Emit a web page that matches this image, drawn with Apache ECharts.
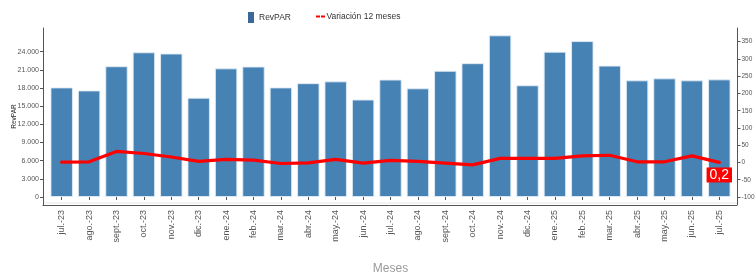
<!DOCTYPE html>
<html>
<head>
<meta charset="utf-8">
<script src="https://cdn.jsdelivr.net/npm/echarts@6/dist/echarts.min.js"></script>
<style>
    html, body {margin:0;padding:0;background:#fff;}
    #chart {width:755px;height:272px;}
</style>
</head>
<body>
<div id="chart"></div>
<script>
    var meses = ['jul.-23','ago.-23','sept.-23','oct.-23','nov.-23','dic.-23',
        'ene.-24','feb.-24','mar.-24','abr.-24','may.-24','jun.-24',
        'jul.-24','ago.-24','sept.-24','oct.-24','nov.-24','dic.-24',
        'ene.-25','feb.-25','mar.-25','abr.-25','may.-25','jun.-25','jul.-25'];
    var revpar = [18100, 17600, 21600, 23900, 23700, 16400,
        21250, 21550, 18100, 18800, 19100, 16100,
        19400, 17950, 20850, 22100, 26700, 18450,
        24000, 25750, 21700, 19270, 19600, 19270, 19430];
    var variacion = [1, 2, 32, 26, 16, 3,
        9, 7, -3, -1, 9, -2,
        6, 3, -2, -7, 12, 12,
        12, 19, 21, 2, 2, 19, 0.2];
    var ticksIzq = [0, 3000, 6000, 9000, 12000, 15000, 18000, 21000, 24000];
    var ticksDer = [-100, -50, 0, 50, 100, 150, 200, 250, 300, 350];

    var fuente = 'Liberation Sans, Arial, sans-serif';
    var chart = echarts.init(document.getElementById('chart'));

    // solo el ultimo punto lleva etiqueta
    var lineData = variacion.map(function (v, i) {
        if (i === variacion.length - 1) {
            return {
                value: v,
                label: {
                    show: true, position: 'bottom', distance: 5,
                    formatter: function (p) { return String(p.value).replace('.', ','); },
                    color: '#fff', backgroundColor: '#ff0000',
                    fontSize: 14, fontFamily: fuente, padding: [1, 3, 0, 3]
                }
            };
        }
        return v;
    });

    var option = {
        animation: false,
        textStyle: {fontFamily: fuente},
        grid: {left: 48, right: 22, top: 28, bottom: 67, containLabel: false, outerBoundsMode: 'none'},
        legend: [{
            data: [{name: 'RevPAR', icon: 'rect', itemStyle: {color: '#3b6896', borderWidth: 0}}],
            left: 248, top: 12, padding: 0, itemWidth: 6, itemHeight: 11, itemGap: 5,
            textStyle: {fontSize: 8.5, color: '#333', fontFamily: fuente}
        }, {
            data: [{name: 'Variación 12 meses', icon: 'path://M0,0h4v2h-4z M5,0h4v2h-4z'}],
            left: 316, top: 12, padding: 0, itemWidth: 10, itemHeight: 2, itemGap: 5,
            textStyle: {fontSize: 8.5, color: '#333', fontFamily: fuente, padding: [0, 0, 0, -4]}
        }],
        xAxis: {
            type: 'category',
            data: meses,
            name: 'Meses', nameLocation: 'middle', nameGap: 58, nameMoveOverlap: false,
            nameTextStyle: {fontSize: 12, color: '#999'},
            axisLine: {show: false},
            axisTick: {show: true, alignWithLabel: true, length: 3, lineStyle: {color: '#555'}},
            axisLabel: {rotate: 90, fontSize: 9, color: '#555', margin: 5, interval: 0}
        },
        yAxis: [{
            type: 'value', min: -1320, max: 27910, offset: 5,
            name: 'RevPAR', nameLocation: 'middle', nameGap: 25, nameMoveOverlap: false,
            nameTextStyle: {fontSize: 6.5, color: '#222'},
            axisLine: {show: true, lineStyle: {color: '#555'}},
            axisTick: {show: true, length: 3, customValues: ticksIzq, lineStyle: {color: '#555'}},
            axisLabel: {
                fontSize: 7, color: '#555', margin: 4, customValues: ticksIzq,
                formatter: function (v) { return v === 0 ? '0' : v.toLocaleString('de-DE'); }
            },
            splitLine: {show: false}
        }, {
            type: 'value', min: -123.2, max: 389.7, offset: 4.5, position: 'right',
            axisLine: {show: true, lineStyle: {color: '#555'}},
            axisTick: {show: true, length: 3, customValues: ticksDer, lineStyle: {color: '#555'}},
            axisLabel: {fontSize: 6.5, color: '#555', margin: 4, customValues: ticksDer},
            splitLine: {show: false}
        }],
        graphic: [{
            type: 'line', silent: true,
            shape: {x1: 42.5, y1: 205.5, x2: 737, y2: 205.5},
            style: {stroke: '#555', lineWidth: 1}
        }, {
            type: 'line', silent: true,
            shape: {x1: 43, y1: 203, x2: 737, y2: 203},
            style: {stroke: '#e8e8e8', lineWidth: 1}
        }],
        series: [{
            name: 'RevPAR', type: 'bar', yAxisIndex: 0,
            data: revpar, barCategoryGap: '18%',
            itemStyle: {color: '#4682b4', borderColor: 'rgba(225,235,245,0.9)', borderWidth: 1}
        }, {
            name: 'Variación 12 meses', type: 'line', yAxisIndex: 1,
            data: lineData, showSymbol: true, symbol: 'circle', symbolSize: 0.1, z: 5,
            lineStyle: {color: '#ff0000', width: 3.2, cap: 'round', join: 'round'},
            itemStyle: {color: '#ff0000'}
        }]
    };
    chart.setOption(option);
    window.onresize = function () {
        chart.resize();
    };
</script>
</body>
</html>
